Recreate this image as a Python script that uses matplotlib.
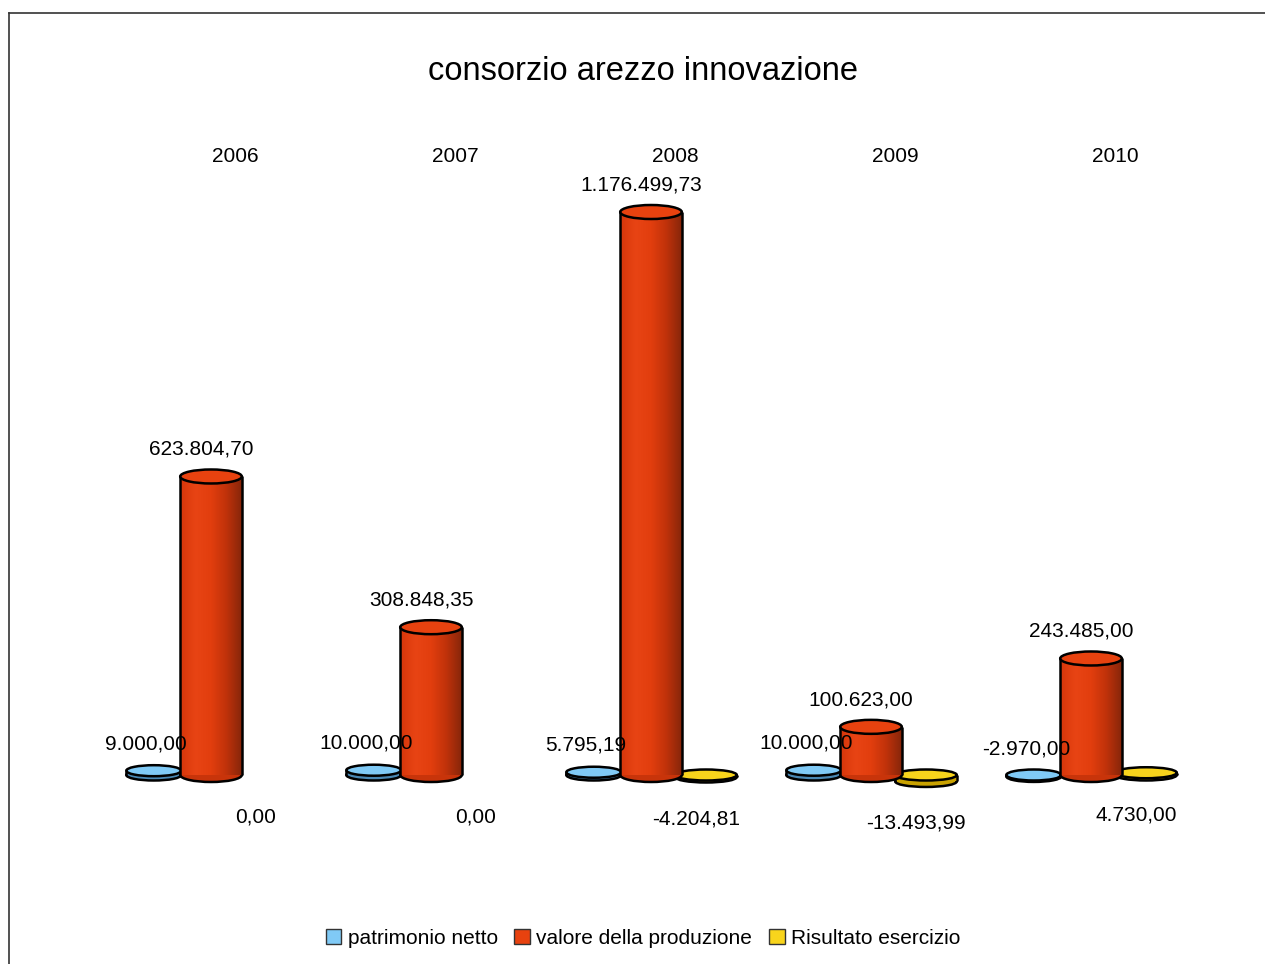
import numpy as np
import matplotlib
matplotlib.use("Agg")
import matplotlib.pyplot as plt
from matplotlib.patches import Ellipse
from matplotlib.lines import Line2D
from matplotlib.colors import LinearSegmentedColormap

plt.rcParams['font.family'] = ['Liberation Sans', 'DejaVu Sans']

years = ['2006', '2007', '2008', '2009', '2010']
patrimonio = [9000.00, 10000.00, 5795.19, 10000.00, -2970.00]
valore = [623804.70, 308848.35, 1176499.73, 100623.00, 243485.00]
risultato = [0.00, 0.00, -4204.81, -13493.99, 4730.00]
series_names = ['patrimonio netto', 'valore della produzione', 'Risultato esercizio']


def fmt(v):
    s = f"{v:,.2f}"
    return s.replace(',', '#').replace('.', ',').replace('#', '.')


fig = plt.figure(figsize=(12.65, 9.64), dpi=100)
ax = fig.add_axes([0, 0.15, 1, 0.7])
ax.axis('off')

# scale: px per unit so cap heights can be given in pixels
k = 563 / 1176500.0
ax.set_xlim(-211 / 220, (1265 - 211) / 220)
ax.set_ylim((144.6 - 189) / k, (819.4 - 189) / k)

red_cmap = LinearSegmentedColormap.from_list(
    'red', ['#d6360a', '#e84414', '#e23e0e', '#c0320a', '#86260a'])


def cylinder(x, v, w, top, side, eh_px, z, grad=None):
    if v == 0:
        return  # zero values are not drawn
    lo, hi = min(0, v), max(0, v)
    eh = eh_px / k
    ax.add_patch(Ellipse((x, lo), w, eh, fc=side, ec='black', lw=1.8, zorder=z))
    bars = ax.bar(x, hi - lo, w, bottom=lo, color=side, ec='none', zorder=z + 0.1)
    if grad is not None:
        g = np.linspace(0, 1, 200).reshape(1, -1)
        im = ax.imshow(g, extent=(x - w / 2, x + w / 2, lo, hi), aspect='auto',
                       cmap=grad, zorder=z + 0.2, interpolation='bilinear')
        im.set_clip_path(bars[0])
    ax.vlines([x - w / 2, x + w / 2], lo, hi, colors='black', lw=1.8, zorder=z + 0.3)
    ax.add_patch(Ellipse((x, hi), w, eh, fc=top, ec='black', lw=1.8, zorder=z + 0.4))


xs = np.arange(len(years))
w_red, w_side = 0.28, 0.25
off_blue, off_yel = -0.26, 0.25

for i in xs:
    cylinder(i + off_blue, patrimonio[i], w_side, '#80caf6', '#4a88b4', 11, 2)
    cylinder(i + off_yel, risultato[i], w_side + 0.03, '#f8d41c', '#c9a200', 11, 2)
    cylinder(i, valore[i], w_red, '#e8420f', '#c8340a', 14, 4, grad=red_cmap)

    ax.annotate(fmt(patrimonio[i]), (i + off_blue, patrimonio[i]), xytext=(-8, 27),
                textcoords='offset pixels', ha='center', va='center', fontsize=15, zorder=6)
    ax.annotate(fmt(valore[i]), (i, valore[i]), xytext=(-10, 27),
                textcoords='offset pixels', ha='center', va='center', fontsize=15, zorder=6)
    ax.annotate(fmt(risultato[i]), (i + off_yel, risultato[i]), xytext=(-10, -42),
                textcoords='offset pixels', ha='center', va='center', fontsize=15, zorder=6)
    ax.annotate(years[i], (i, 964 - 157), xycoords=('data', 'figure pixels'),
                xytext=(24, 0), textcoords='offset pixels',
                ha='center', va='center', fontsize=15)

fig.text(643 / 1265, 1 - 72 / 964, 'consorzio arezzo innovazione',
         ha='center', va='center', fontsize=23.5)

handles = [
    plt.Rectangle((0, 0), 1, 1, fc='#80caf6', ec='#333333', lw=1),
    plt.Rectangle((0, 0), 1, 1, fc='#e8420f', ec='#333333', lw=1),
    plt.Rectangle((0, 0), 1, 1, fc='#f8d41c', ec='#333333', lw=1),
]
fig.legend(handles, series_names, loc='center', bbox_to_anchor=(643 / 1265, 1 - 938 / 964),
           ncol=3, frameon=False, fontsize=15, handlelength=0.75, handleheight=0.75,
           handletextpad=0.3, columnspacing=0.8)

# outer frame (top and left edges)
fig.add_artist(Line2D([9 / 1265, 9 / 1265], [0, 1 - 13 / 964], color='#333333', lw=1.2))
fig.add_artist(Line2D([9 / 1265, 1], [1 - 13 / 964, 1 - 13 / 964], color='#333333', lw=1.2))

fig.savefig('out.png', dpi=100)
